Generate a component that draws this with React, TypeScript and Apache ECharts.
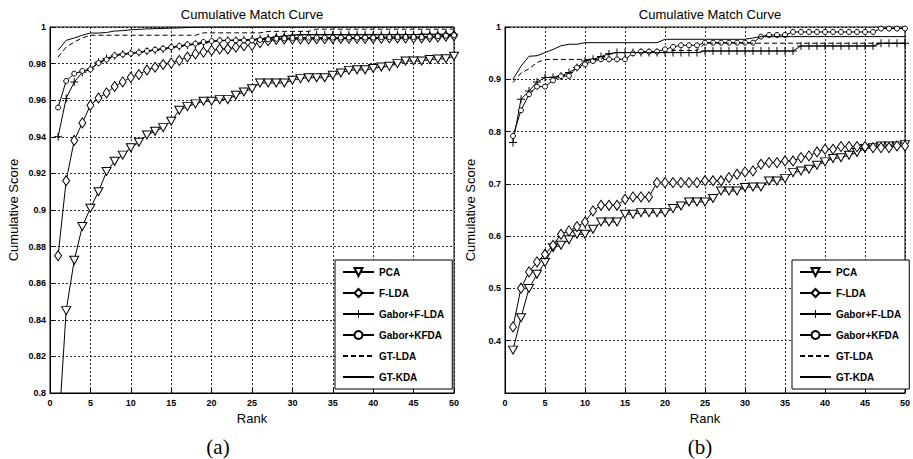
import React, { useEffect, useRef } from "react";
import * as echarts from "echarts";

const ranks = [
  1, 2, 3, 4, 5, 6, 7, 8, 9, 10, 11, 12, 13, 14, 15, 16, 17, 18, 19, 20, 21, 22, 23, 24, 25,
  26, 27, 28, 29, 30, 31, 32, 33, 34, 35, 36, 37, 38, 39, 40, 41, 42, 43, 44, 45, 46, 47, 48, 49, 50,
];
const seriesNames = ["PCA", "F-LDA", "Gabor+F-LDA", "Gabor+KFDA", "GT-LDA", "GT-KDA"];
const panelTitle = "Cumulative Match Curve";
const panelCaptions = ["(a)", "(b)"];

// ---- panel (a) ----
const pcaA = [
  0.775, 0.845, 0.8725, 0.891, 0.901, 0.91, 0.921, 0.9266, 0.93, 0.934,
  0.937, 0.941, 0.943, 0.945, 0.9485, 0.9545, 0.9565, 0.958, 0.9594, 0.9594,
  0.9603, 0.9603, 0.9627, 0.9645, 0.9663, 0.9694, 0.9694, 0.9694, 0.9694, 0.9709,
  0.9718, 0.9723, 0.9723, 0.9723, 0.9736, 0.9749, 0.9763, 0.9766, 0.9766, 0.9773,
  0.9781, 0.9785, 0.98, 0.9814, 0.9814, 0.9814, 0.9822, 0.9825, 0.9827, 0.984,
];
const fldaA = [
  0.875, 0.916, 0.938, 0.9476, 0.9572, 0.9612, 0.964, 0.9675, 0.97, 0.9725,
  0.974, 0.9765, 0.978, 0.9795, 0.9803, 0.9818, 0.9836, 0.9853, 0.9863, 0.9872,
  0.988, 0.988, 0.989, 0.9898, 0.99, 0.9915, 0.9925, 0.9932, 0.9935, 0.9935,
  0.9935, 0.9935, 0.9936, 0.9936, 0.9937, 0.9937, 0.9938, 0.9938, 0.9938, 0.9939,
  0.9939, 0.994, 0.994, 0.994, 0.994, 0.9941, 0.9944, 0.9946, 0.995, 0.9953,
];
const gaborFldaA = [
  0.94, 0.961, 0.9699, 0.9752, 0.977, 0.9807, 0.9828, 0.9843, 0.9852, 0.9857,
  0.986, 0.9868, 0.9873, 0.988, 0.9887, 0.9893, 0.9902, 0.9905, 0.9912, 0.992,
  0.9925, 0.9927, 0.9928, 0.993, 0.9932, 0.9936, 0.994, 0.9945, 0.995, 0.9955,
  0.9958, 0.9958, 0.9958, 0.9958, 0.9958, 0.9958, 0.9958, 0.9958, 0.9958, 0.9958,
  0.9958, 0.9958, 0.9958, 0.9958, 0.9958, 0.996, 0.996, 0.996, 0.996, 0.996,
];
const gaborKfdaA = [
  0.956, 0.9705, 0.9745, 0.976, 0.9768, 0.9803, 0.9822, 0.9845, 0.985, 0.9855,
  0.9861, 0.9869, 0.9876, 0.9882, 0.989, 0.9896, 0.9905, 0.9909, 0.9918, 0.9923,
  0.9927, 0.9927, 0.9927, 0.9927, 0.9927, 0.993, 0.9933, 0.9936, 0.9938, 0.994,
  0.9942, 0.9942, 0.9942, 0.9942, 0.9942, 0.9942, 0.9942, 0.9942, 0.9942, 0.9942,
  0.9945, 0.9945, 0.9945, 0.9945, 0.9945, 0.9945, 0.9948, 0.995, 0.9952, 0.9955,
];
const gtLdaA = [
  0.9836, 0.989, 0.9918, 0.994, 0.9955, 0.9955, 0.9955, 0.9955, 0.9955, 0.9955,
  0.9955, 0.9955, 0.9955, 0.9955, 0.9955, 0.9955, 0.9955, 0.9955, 0.9968, 0.9968,
  0.9968, 0.9968, 0.9968, 0.9968, 0.9968, 0.9968, 0.9976, 0.9976, 0.9976, 0.9976,
  0.9976, 0.9976, 0.9988, 0.9988, 0.9988, 0.9988, 0.9988, 0.9988, 0.9988, 0.9988,
  0.9988, 0.9988, 0.9988, 0.9988, 0.9988, 0.9988, 0.9988, 0.9988, 0.9988, 0.9988,
];
const gtKdaA = [
  0.9873, 0.9927, 0.994, 0.9955, 0.9967, 0.9967, 0.997, 0.9978, 0.998, 0.9985,
  0.9987, 0.999, 0.9991, 0.9992, 0.9994, 0.9995, 0.9997, 0.9998, 1, 1,
  1, 1, 1, 1, 1, 1, 1, 1, 1, 1,
  1, 1, 1, 1, 1, 1, 1, 1, 1, 1,
  1, 1, 1, 1, 1, 1, 1, 1, 1, 1,
];

// ---- panel (b) ----
const pcaB = [
  0.382, 0.444, 0.5, 0.527, 0.5495, 0.578, 0.5826, 0.593, 0.6036, 0.6036,
  0.6132, 0.627, 0.627, 0.627, 0.642, 0.642, 0.645, 0.645, 0.645, 0.645,
  0.6527, 0.6577, 0.6654, 0.6654, 0.6654, 0.672, 0.6864, 0.6864, 0.6864, 0.693,
  0.694, 0.694, 0.7056, 0.7056, 0.71, 0.7215, 0.7247, 0.728, 0.7356, 0.742,
  0.7484, 0.75, 0.7547, 0.76, 0.7675, 0.769, 0.7725, 0.7725, 0.7725, 0.775,
];
const fldaB = [
  0.4264, 0.5004, 0.5316, 0.5507, 0.5654, 0.5826, 0.6036, 0.61, 0.6183, 0.627,
  0.6482, 0.659, 0.659, 0.659, 0.6706, 0.675, 0.675, 0.675, 0.7025, 0.7025,
  0.7025, 0.7025, 0.7025, 0.7025, 0.706, 0.706, 0.706, 0.712, 0.7184, 0.7228,
  0.7247, 0.7375, 0.7407, 0.7407, 0.7438, 0.7438, 0.7503, 0.7534, 0.761, 0.7662,
  0.7662, 0.7713, 0.7713, 0.7713, 0.7713, 0.7694, 0.7694, 0.7694, 0.7725, 0.7725,
];
const gaborFldaB = [
  0.779, 0.8618, 0.8776, 0.8948, 0.9032, 0.904, 0.9063, 0.9128, 0.9224, 0.935,
  0.9382, 0.9434, 0.949, 0.951, 0.951, 0.951, 0.951, 0.951, 0.951, 0.951,
  0.951, 0.951, 0.951, 0.951, 0.954, 0.954, 0.954, 0.954, 0.954, 0.954,
  0.954, 0.954, 0.954, 0.954, 0.954, 0.954, 0.9637, 0.9637, 0.9637, 0.9637,
  0.9637, 0.9637, 0.9637, 0.9637, 0.9637, 0.9637, 0.9688, 0.9688, 0.9688, 0.9688,
];
const gaborKfdaB = [
  0.7916, 0.8407, 0.8713, 0.886, 0.886, 0.898, 0.906, 0.9066, 0.9224, 0.9287,
  0.935, 0.9382, 0.9382, 0.9382, 0.9382, 0.9497, 0.953, 0.953, 0.953, 0.9574,
  0.962, 0.965, 0.965, 0.965, 0.97, 0.97, 0.97, 0.97, 0.97, 0.97,
  0.97, 0.9816, 0.9847, 0.9847, 0.9847, 0.9905, 0.9905, 0.9905, 0.9905, 0.9905,
  0.9905, 0.9905, 0.9905, 0.9905, 0.9905, 0.9905, 0.997, 0.997, 0.997, 0.997,
];
const gtLdaB = [
  0.894, 0.912, 0.92, 0.932, 0.938, 0.938, 0.938, 0.938, 0.938, 0.938,
  0.938, 0.938, 0.948, 0.951, 0.951, 0.951, 0.951, 0.951, 0.951, 0.951,
  0.955, 0.955, 0.955, 0.955, 0.969, 0.969, 0.969, 0.969, 0.969, 0.969,
  0.969, 0.969, 0.969, 0.969, 0.969, 0.969, 0.969, 0.969, 0.969, 0.969,
  0.969, 0.969, 0.969, 0.969, 0.969, 0.969, 0.969, 0.969, 0.969, 0.969,
];
const gtKdaB = [
  0.9, 0.925, 0.944, 0.945, 0.951, 0.957, 0.964, 0.967, 0.967, 0.97,
  0.97, 0.97, 0.97, 0.97, 0.97, 0.97, 0.97, 0.97, 0.97, 0.9765,
  0.9765, 0.9765, 0.9765, 0.9765, 0.9765, 0.9765, 0.9765, 0.9765, 0.9765, 0.9765,
  0.979, 0.9816, 0.9816, 0.9816, 0.9816, 0.9816, 0.9816, 0.9816, 0.9816, 0.9816,
  0.9816, 0.9816, 0.9816, 0.9816, 0.9816, 0.9816, 0.9816, 0.9816, 0.9816, 0.9816,
];

const panelA = [pcaA, fldaA, gaborFldaA, gaborKfdaA, gtLdaA, gtKdaA];
const panelB = [pcaB, fldaB, gaborFldaB, gaborKfdaB, gtLdaB, gtKdaB];

const FONT = "'Liberation Sans', Arial, Helvetica, sans-serif";
const PLUS = "path://M4.4,0h1.2v4.4h4.4v1.2h-4.4v4.4h-1.2v-4.4h-4.4v-1.2h4.4z";

// marker styles: hollow shapes are drawn as white-filled shapes with a thin black border
const markerStyles: any[] = [
  { symbol: "triangle", symbolSize: [9, 8], symbolRotate: 180, line: "solid", fill: "#fff", bw: 1, hideLegendMark: false },
  { symbol: "diamond", symbolSize: [7, 10], symbolRotate: 0, line: "solid", fill: "#fff", bw: 1, hideLegendMark: false },
  { symbol: PLUS, symbolSize: 8, symbolRotate: 0, line: "solid", fill: "#000", bw: 0, hideLegendMark: false },
  { symbol: "circle", symbolSize: 5, symbolRotate: 0, line: "solid", fill: "#fff", bw: 1, hideLegendMark: false },
  { symbol: "none", symbolSize: 0, symbolRotate: 0, line: [5, 3], fill: "#000", bw: 0, hideLegendMark: true },
  { symbol: "none", symbolSize: 0, symbolRotate: 0, line: "solid", fill: "#000", bw: 0, hideLegendMark: true },
];

const fmt = (v: number) => String(Math.round(v * 100) / 100);

export default function App() {
  const ref = useRef<HTMLDivElement>(null);
  useEffect(() => {
    if (!ref.current) return;
    const chart = echarts.init(ref.current, undefined, { renderer: "svg" });

    const grids = [
      { left: 50, top: 27, width: 404, height: 366, show: true, borderColor: "#000", borderWidth: 1, backgroundColor: "transparent" },
      { left: 505, top: 27, width: 411, height: 366, show: true, borderColor: "#000", borderWidth: 1, backgroundColor: "transparent" },
    ];

    const splitLine = { show: true, lineStyle: { color: "#000", width: 1, type: [2, 2] as any, opacity: 0.85 } };
    const axisLabel = { color: "#000", fontSize: 9, fontWeight: "bold" as const, fontFamily: FONT };

    const xAxes = [0, 1].map((g) => ({
      type: "value",
      gridIndex: g,
      min: 0,
      max: 50,
      interval: 5,
      name: "Rank",
      nameLocation: "middle",
      nameGap: 18,
      nameTextStyle: { color: "#000", fontSize: 13, fontFamily: FONT },
      axisLine: { show: true, lineStyle: { color: "#000", width: 1 } },
      axisTick: { show: true, inside: true, length: 4, lineStyle: { color: "#000" } },
      axisLabel: { ...axisLabel, margin: 5, showMaxLabel: true },
      splitLine,
    }));

    const yAxes = [
      {
        type: "value",
        gridIndex: 0,
        min: 0.8,
        max: 1,
        interval: 0.02,
        name: "Cumulative Score",
        nameLocation: "middle",
        nameGap: 30,
        nameTextStyle: { color: "#000", fontSize: 13, fontFamily: FONT },
        axisLine: { show: true, lineStyle: { color: "#000", width: 1 } },
        axisTick: { show: true, inside: true, length: 4, lineStyle: { color: "#000" } },
        axisLabel: { ...axisLabel, margin: 4, formatter: fmt },
        splitLine,
      },
      {
        type: "value",
        gridIndex: 1,
        min: 0.3,
        max: 1,
        interval: 0.1,
        name: "Cumulative Score",
        nameLocation: "middle",
        nameGap: 28,
        nameTextStyle: { color: "#000", fontSize: 13, fontFamily: FONT },
        axisLine: { show: true, lineStyle: { color: "#000", width: 1 } },
        axisTick: { show: true, inside: true, length: 4, lineStyle: { color: "#000" } },
        axisLabel: { ...axisLabel, margin: 4, formatter: fmt, showMinLabel: false },
        splitLine,
      },
    ];

    const series: any[] = [];
    [panelA, panelB].forEach((panel, g) => {
      panel.forEach((vals, i) => {
        const st = markerStyles[i];
        series.push({
          type: "line",
          name: seriesNames[i],
          xAxisIndex: g,
          yAxisIndex: g,
          data: ranks.map((r, j) => [r, vals[j]]),
          symbol: st.symbol,
          symbolSize: st.symbolSize,
          symbolRotate: st.symbolRotate,
          showSymbol: st.symbol !== "none",
          showAllSymbol: true,
          symbolKeepAspect: true,
          clip: true,
          lineStyle: { color: "#000", width: 1, type: st.line },
          itemStyle: { color: st.fill, borderColor: "#000", borderWidth: st.bw },
          emphasis: { disabled: true },
          silent: true,
          z: 3 + i,
        });
      });
    });

    const legendData = seriesNames.map((name, i) =>
      markerStyles[i].hideLegendMark ? { name, itemStyle: { opacity: 0 } } : { name }
    );

    const legends = [335, 792].map((left) => ({
      orient: "vertical",
      left,
      top: 260,
      data: legendData,
      itemWidth: 31,
      itemHeight: 10,
      itemGap: 11,
      padding: [7, 8, 7, 7],
      backgroundColor: "#fff",
      borderColor: "#000",
      borderWidth: 1,
      borderRadius: 0,
      selectedMode: false,
      textStyle: { color: "#000", fontSize: 10, fontWeight: "bold", fontFamily: FONT },
      z: 20,
    }));

    const graphics: any[] = [
      { type: "text", x: 252, y: 14, style: { text: panelTitle, fill: "#000", font: `13px ${FONT}`, textAlign: "center", textVerticalAlign: "middle" } },
      { type: "text", x: 710, y: 14, style: { text: panelTitle, fill: "#000", font: `13px ${FONT}`, textAlign: "center", textVerticalAlign: "middle" } },
      { type: "text", x: 218, y: 447, style: { text: panelCaptions[0], fill: "#000", font: `21px 'Liberation Serif', 'Times New Roman', serif`, textAlign: "center", textVerticalAlign: "middle" } },
      { type: "text", x: 700, y: 447, style: { text: panelCaptions[1], fill: "#000", font: `21px 'Liberation Serif', 'Times New Roman', serif`, textAlign: "center", textVerticalAlign: "middle" } },
    ];

    chart.setOption({
      animation: false,
      backgroundColor: "#fff",
      textStyle: { fontFamily: FONT },
      grid: grids,
      xAxis: xAxes,
      yAxis: yAxes,
      legend: legends,
      series,
      graphic: graphics,
    });
    return () => chart.dispose();
  }, []);

  return (
    <div
      ref={ref}
      style={{ position: "absolute", left: 0, top: 0, width: 913, height: 459, background: "#fff" }}
    />
  );
}
